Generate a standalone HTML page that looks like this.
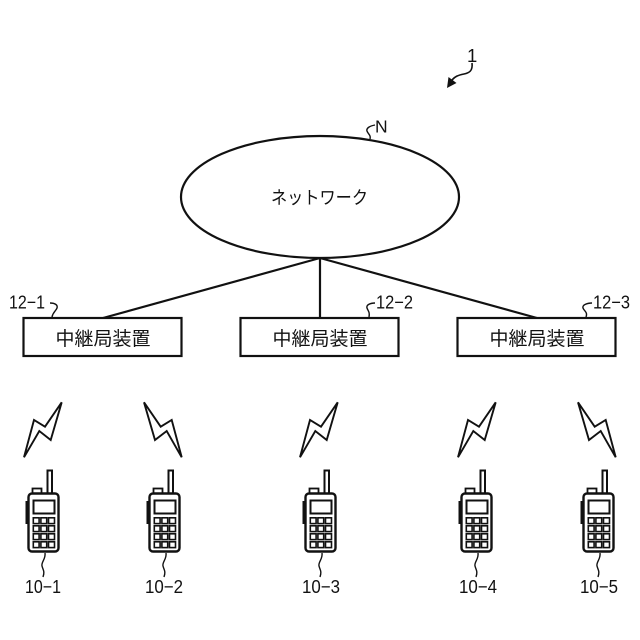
<!DOCTYPE html>
<html><head><meta charset="utf-8"><style>
html,body{margin:0;padding:0;background:#fff;width:640px;height:640px;overflow:hidden}
svg{display:block}
text{font-family:"Liberation Sans","Noto Sans CJK JP",sans-serif;fill:#111}
.l{font-size:18.500px}
.c{font-size:19px;text-anchor:middle}
.s{fill:none;stroke:#111;stroke-width:1.9}
.t{fill:none;stroke:#111;stroke-width:1.4}
</style></head><body>
<svg xmlns="http://www.w3.org/2000/svg" width="640" height="640" viewBox="0 0 640 640">
<defs>
<g id="p">
<rect x="47.500" y="470.500" width="4.500" height="23" fill="#fff" stroke="#111" stroke-width="2"/>
<rect x="32.500" y="488.500" width="9" height="5" fill="#fff" stroke="#111" stroke-width="1.800"/>
<rect x="25.500" y="501" width="3" height="23" fill="#111"/>
<rect x="28.500" y="493.500" width="30" height="58" rx="3.500" fill="#fff" stroke="#111" stroke-width="2.400"/>
<rect x="33.500" y="500.500" width="21" height="13" fill="#fff" stroke="#111" stroke-width="2"/>
<g fill="#fff" stroke="#111" stroke-width="1.600">
<rect x="33.300" y="517.800" width="5.800" height="5.800"/><rect x="40.900" y="517.800" width="5.800" height="5.800"/><rect x="48.500" y="517.800" width="6" height="5.800"/>
<rect x="33.300" y="525.800" width="5.800" height="5.800"/><rect x="40.900" y="525.800" width="5.800" height="5.800"/><rect x="48.500" y="525.800" width="6" height="5.800"/>
<rect x="33.300" y="533.800" width="5.800" height="5.800"/><rect x="40.900" y="533.800" width="5.800" height="5.800"/><rect x="48.500" y="533.800" width="6" height="5.800"/>
<rect x="33.300" y="541.800" width="5.800" height="5.800"/><rect x="40.900" y="541.800" width="5.800" height="5.800"/><rect x="48.500" y="541.800" width="6" height="5.800"/>
</g>
<path class="t" d="M45 553c1 6-4 9-3 13s3 5 1 11"/>
</g>
<path id="b" class="s" d="M24 457.300 34 420 45 426.700 61.700 402.300 50.700 440 39.300 431Z"/>
<path id="bm" class="s" d="M144 402.300 160.700 426.700 171.700 420 181.700 457.300 166.700 431 155 440Z"/>
</defs>

<text class="l" x="467" y="62">1</text>
<path d="M472 63c1 8-3 10-8 11s-10 2-14 9" fill="none" stroke="#111" stroke-width="1.600"/>
<path d="M447 88 448.500 77 456.500 83Z" fill="#111"/>

<ellipse cx="320" cy="197" rx="139" ry="61" fill="#fff" stroke="#111" stroke-width="2.200"/>
<text x="375" y="132.500" style="font-size:17.500px">N</text>
<path class="t" d="M375 125c-5 1-9 3-8 6s4 4 3 8"/>
<text x="271" y="204" textLength="97" lengthAdjust="spacingAndGlyphs" style="font-size:18px">ネットワーク</text>

<path d="M320 258 103 318M320 258V318M320 258 537 318" fill="none" stroke="#111" stroke-width="2.200"/>

<rect x="23.500" y="318" width="158" height="38" fill="#fff" stroke="#111" stroke-width="2.200"/>
<rect x="240.500" y="318" width="158" height="38" fill="#fff" stroke="#111" stroke-width="2.200"/>
<rect x="457.500" y="318" width="158" height="38" fill="#fff" stroke="#111" stroke-width="2.200"/>
<text class="c" x="103" y="345">中継局装置</text>
<text class="c" x="320" y="345">中継局装置</text>
<text class="c" x="537" y="345">中継局装置</text>

<text class="l" x="9" y="308.500" textLength="36" lengthAdjust="spacingAndGlyphs">12−1</text>
<path class="t" d="M50 303c5 0 8 2 7 5s-4 4-5 9"/>
<text class="l" x="376" y="308.500" textLength="37" lengthAdjust="spacingAndGlyphs">12−2</text>
<path class="t" d="M375 303c-5 0-9 2-8 5s3 4 2 9"/>
<text class="l" x="593" y="308.500" textLength="37" lengthAdjust="spacingAndGlyphs">12−3</text>
<path class="t" d="M592 303c-5 0-10 2-9 5s5 4 3 9"/>

<use href="#b"/>
<use href="#bm"/>
<use href="#b" x="276"/>
<use href="#b" x="434"/>
<use href="#bm" x="434"/>

<use href="#p"/>
<use href="#p" x="121"/>
<use href="#p" x="277"/>
<use href="#p" x="433"/>
<use href="#p" x="555"/>

<text class="l" x="25" y="593" textLength="36" lengthAdjust="spacingAndGlyphs">10−1</text>
<text class="l" x="145" y="593" textLength="38" lengthAdjust="spacingAndGlyphs">10−2</text>
<text class="l" x="302" y="593" textLength="38" lengthAdjust="spacingAndGlyphs">10−3</text>
<text class="l" x="459" y="593" textLength="38" lengthAdjust="spacingAndGlyphs">10−4</text>
<text class="l" x="580" y="593" textLength="38" lengthAdjust="spacingAndGlyphs">10−5</text>
</svg>
</body></html>
